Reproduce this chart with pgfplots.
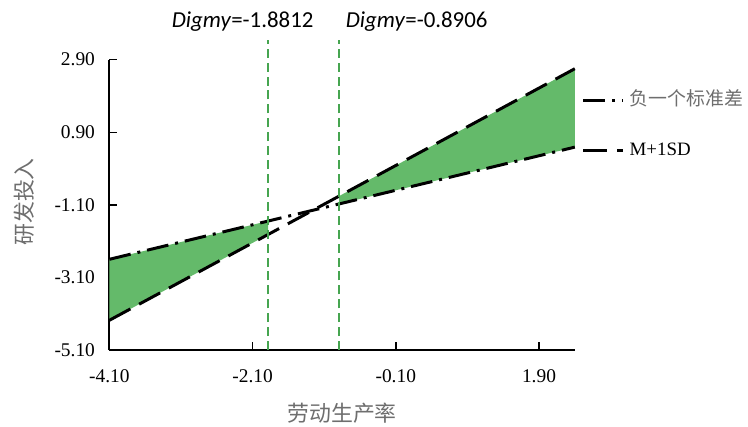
\documentclass[border=0pt]{standalone}
\usepackage{pgfplots}
\pgfplotsset{compat=1.18}
\usepgfplotslibrary{fillbetween}
\usepackage{fontspec}
\setmainfont{Liberation Serif}
\newfontfamily\cjk{Noto Sans CJK SC}
\newfontfamily\cali{Carlito}

\definecolor{fillgreen}{RGB}{100,186,106}
\definecolor{vgreen}{RGB}{70,165,80}
\definecolor{labgray}{RGB}{110,110,110}

\begin{document}
\begin{tikzpicture}
\begin{axis}[scale only axis,width=468pt,height=292pt,
xmin=-4.1,xmax=2.4,ymin=-5.1,ymax=2.9,
axis lines=left,axis line style={line width=2pt,-},
clip=false,
xtick={-4.1,-2.1,-0.1,1.9},xticklabels={-4.10,-2.10,-0.10,1.90},
ytick={-5.1,-3.1,-1.1,0.9,2.9},yticklabels={-5.10,-3.10,-1.10,0.90,2.90},
tick align=inside,major tick length=8pt,
tick style={black,line width=1.5pt},
ticklabel style={font=\fontsize{19.5}{22}\selectfont},
xticklabel style={yshift=-16pt},
yticklabel style={xshift=-11pt},
xlabel={\cjk 劳动生产率},ylabel={\cjk 研发投入},
xlabel style={at={(axis description cs:0.5,-0.216)},anchor=center,
  font=\fontsize{22}{24}\selectfont,text=labgray},
ylabel style={at={(axis description cs:-0.182,0.51)},anchor=center,
  font=\fontsize{22}{24}\selectfont,text=labgray},
legend style={at={(axis description cs:1.0085,0.905)},anchor=north west,
  draw=none,fill=none,row sep=27pt,column sep=3pt,
  font=\fontsize{19}{22}\selectfont,
  nodes={inner sep=2pt,text height=14pt,text depth=5pt}},
legend cell align=left,
legend image code/.code={\draw[#1] (0pt,0pt) -- (40pt,0pt);}]

\addplot[name path=low,black,line width=3pt,
  dash pattern=on 22pt off 7pt on 3pt off 7pt]
  coordinates {(-4.1,-2.60) (2.4,0.49)};
\addlegendentry{\cjk\color{labgray}负一个标准差}
\addplot[name path=high,black,line width=3pt,dash pattern=on 24pt off 10pt]
  coordinates {(-4.1,-4.28) (2.4,2.65)};
\addlegendentry{M+1SD}

\addplot[fill=fillgreen,draw=none] fill between[of=low and high,
  soft clip={domain=-4.1:-1.8812}];
\addplot[fill=fillgreen,draw=none] fill between[of=low and high,
  soft clip={domain=-0.8906:2.4}];

\addplot[vgreen,line width=1.5pt,dash pattern=on 9pt off 5pt,forget plot]
  coordinates {(-1.8812,-5.1) (-1.8812,3.45)};
\addplot[vgreen,line width=1.5pt,dash pattern=on 9pt off 5pt,forget plot]
  coordinates {(-0.8906,-5.1) (-0.8906,3.45)};

\node[anchor=base,font=\cali\fontsize{23}{26}\selectfont]
  at (axis cs:-2.239,3.78) {\textit{Digmy}=-1.8812};
\node[anchor=base,font=\cali\fontsize{23}{26}\selectfont]
  at (axis cs:0.192,3.78) {\textit{Digmy}=-0.8906};

\path (rel axis cs:-0.2350,-0.2603) rectangle (rel axis cs:1.3632,1.2055);
\end{axis}
\end{tikzpicture}
\end{document}
